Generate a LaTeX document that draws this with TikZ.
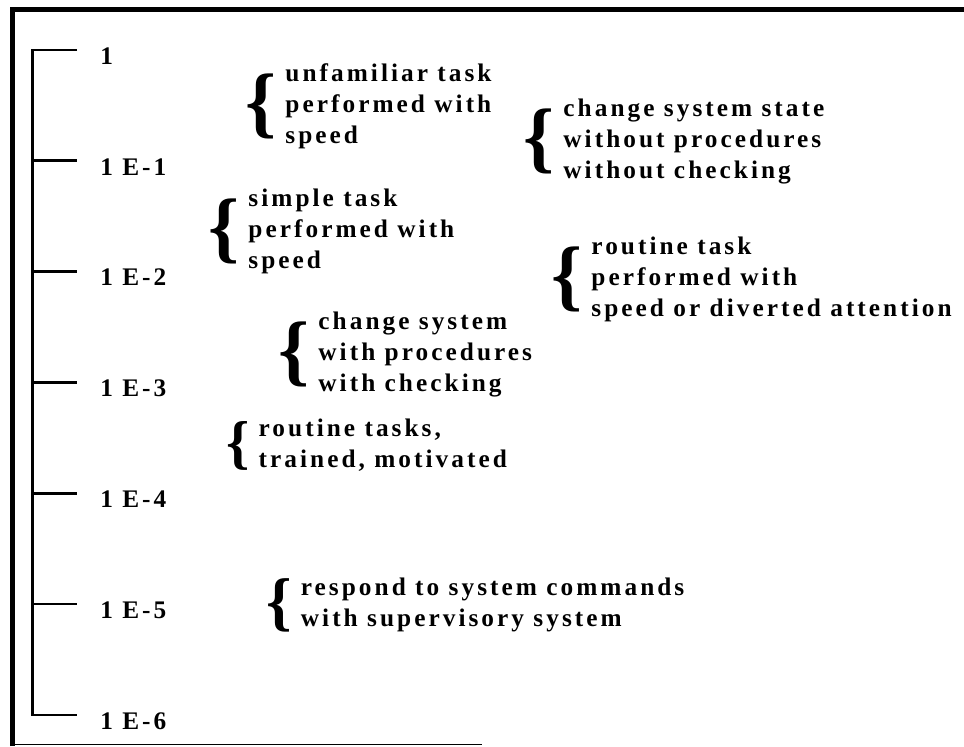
\documentclass[tikz,border=0pt]{standalone}
\usepackage{fontspec}
\setmainfont{Liberation Serif}[LetterSpace=12]
\newfontfamily\bracefont{Liberation Serif}
\usetikzlibrary{positioning}

% brace of a given size in front of a block of lines
\newcommand\bracetext[2]{%
  $\vcenter{\hbox{\bracefont\fontsize{#1}{#1}\selectfont\{}}$\hspace{6.5pt}%
  \begin{tabular}{@{}l@{}}#2\end{tabular}}

\begin{document}
\begin{tikzpicture}[x=0.025cm,y=-0.025cm,
    frame/.style={line width=3.6pt},
    axis/.style={line width=2pt},
    lbl/.style={anchor=west,inner sep=0pt,font=\fontsize{18}{22}\bfseries\selectfont},
    grp/.style={anchor=west,inner sep=0pt,font=\fontsize{18}{22}\bfseries\selectfont}]
	\def\dy{110.8};

	\useasboundingbox (0,0) rectangle (964,746);

	% frame
	\draw[frame] (12.5,746) -- (12.5,9.5) -- (964,9.5);
	\draw[line width=1.2pt] (12.5,744.5) -- (482,744.5);

	% scale
	\begin{scope}[axis]
		\draw (77,50) -- (32.5,50) -- (32.5,715) -- (77,715);
		\foreach \k in {1,...,5}
		{
			\draw (32.5,{50+\dy*\k}) -- (77,{50+\dy*\k});
		}
	\end{scope}

	\node[lbl] (v0) at (100,56) {1};
	\foreach \k in {1,...,6}
	{
		\node[lbl] (v\k) at (100,{56+\dy*\k}) {1 E-\k};
	}

	% task groups
	\node[grp] (unfam)   at (245,106) {\bracetext{56pt}{unfamiliar task\\performed with\\speed}};
	\node[grp] (nochk)   at (523,141) {\bracetext{56pt}{change system state\\without procedures\\without checking}};
	\node[grp] (simple)  at (208,231) {\bracetext{56pt}{simple task\\performed with\\speed}};
	\node[grp] (routine) at (551,279) {\bracetext{56pt}{routine task\\performed with\\speed or diverted attention}};
	\node[grp] (withchk) at (278,354) {\bracetext{56pt}{change system\\with procedures\\with checking}};
	\node[grp] (trained) at (226,446) {\bracetext{42pt}{routine tasks,\\trained, motivated}};
	\node[grp] (superv)  at (266,605) {\bracetext{46pt}{respond to system commands\\with supervisory system}};
\end{tikzpicture}
\end{document}
